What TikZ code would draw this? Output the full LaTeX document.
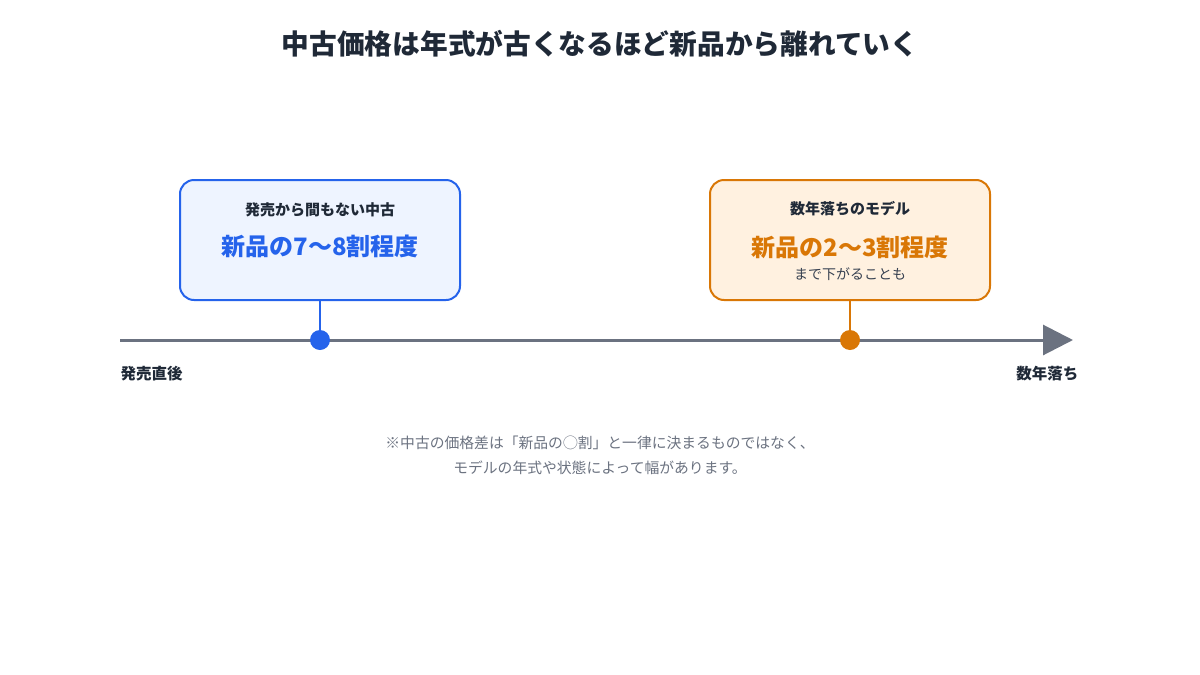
\documentclass[tikz,border=0pt]{standalone}
\usepackage{fontspec}
\setmainfont{Noto Sans CJK JP}
\usetikzlibrary{positioning,arrows.meta}
\definecolor{inkdark}{HTML}{1F2937}
\definecolor{inkgray}{HTML}{374151}
\definecolor{notegray}{HTML}{6B7280}
\definecolor{axisgray}{HTML}{6B7280}
\definecolor{newblue}{HTML}{2563EB}
\definecolor{newfill}{HTML}{EEF4FF}
\definecolor{oldorange}{HTML}{D97706}
\definecolor{oldfill}{HTML}{FFF1E0}
\newcommand{\fsz}[1]{\fontsize{#1pt}{#1pt}\selectfont}

\begin{document}
\begin{tikzpicture}[
    x=1pt, y=-1pt,
    pricebox/.style={draw, line width=2pt, rounded corners=14pt, minimum width=280pt, minimum height=120pt},
    boxhead/.style={font=\fsz{15}\bfseries, text=inkdark},
    boxmain/.style={font=\fsz{24}\bfseries},
    boxsub/.style={font=\fsz{14}, text=inkgray},
    axislabel/.style={font=\fsz{15.5}\bfseries, text=inkdark},
    pricedot/.style={circle, minimum size=20pt, inner sep=0pt},
    note/.style={font=\fsz{14.8}, text=notegray, align=center},
    >=Stealth
]
\useasboundingbox (0,0) rectangle (1200,675);

% ----- Title -----
\node[font=\fsz{27.7}\bfseries, text=inkdark] (title) at (600,44) {中古価格は年式が古くなるほど新品から離れていく};

% ----- Time axis -----
\coordinate (axisStart) at (120,340);
\coordinate (axisEnd) at (1073,340);
\draw[axisgray, line width=3pt, -{Triangle[length=30pt, width=30pt]}] (axisStart) -- (axisEnd);
\node[axislabel, anchor=west] (labStart) at (117,374) {発売直後};
\node[axislabel, anchor=east] (labEnd) at (1082,374) {数年落ち};

% ----- Shortly after release -----
\node[pricebox, newblue, fill=newfill] (boxNew) at (320,240) {};
\node[boxhead] (headNew) at (320,210) {発売から間もない中古};
\node[boxmain, text=newblue] (mainNew) at (320,246) {新品の7〜8割程度};
\node[pricedot, fill=newblue] (dotNew) at (320,340) {};
\draw[newblue, line width=2pt] (boxNew.south) -- (dotNew);

% ----- Several years old -----
\node[pricebox, oldorange, fill=oldfill] (boxOld) at (850,240) {};
\node[boxhead] (headOld) at (850,209) {数年落ちのモデル};
\node[boxmain, text=oldorange] (mainOld) at (850,247) {新品の2〜3割程度};
\node[boxsub] (subOld) at (850,274) {まで下がることも};
\node[pricedot, fill=oldorange] (dotOld) at (850,340) {};
\draw[oldorange, line width=2pt] (boxOld.south) -- (dotOld);

% ----- Footnote -----
\node[note] (noteA) at (600,443) {※中古の価格差は「新品の◯割」と一律に決まるものではなく、};
\node[note] (noteB) at (600,468) {モデルの年式や状態によって幅があります。};

\end{tikzpicture}
\end{document}
